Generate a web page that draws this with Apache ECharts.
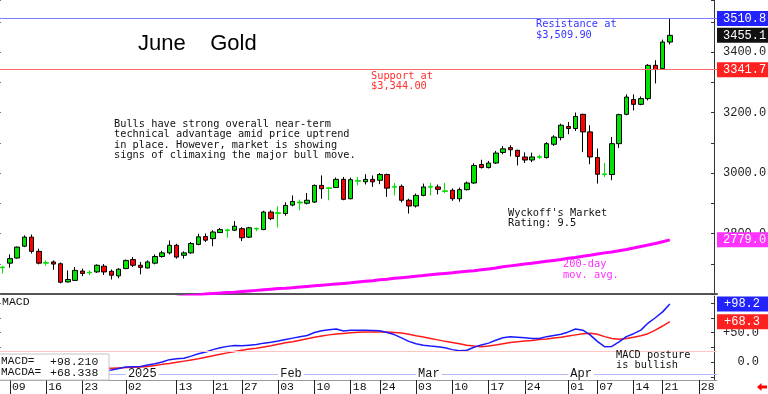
<!DOCTYPE html>
<html><head><meta charset="utf-8">
<script src="https://cdn.jsdelivr.net/npm/echarts@6/dist/echarts.min.js"></script>
<style>html,body{margin:0;padding:0;background:#fff}#c{width:768px;height:394px}</style>
</head><body><div id="c"></div><script>
// ---------------- DATA ----------------
const tradeDates = [
'2024-12-06','2024-12-09','2024-12-10','2024-12-11','2024-12-12','2024-12-13',
'2024-12-16','2024-12-17','2024-12-18','2024-12-19','2024-12-20',
'2024-12-23','2024-12-24','2024-12-26','2024-12-27','2024-12-30','2024-12-31',
'2025-01-02','2025-01-03','2025-01-06','2025-01-07','2025-01-08','2025-01-09','2025-01-10',
'2025-01-13','2025-01-14','2025-01-15','2025-01-16','2025-01-17',
'2025-01-21','2025-01-22','2025-01-23','2025-01-24',
'2025-01-27','2025-01-28','2025-01-29','2025-01-30','2025-01-31',
'2025-02-03','2025-02-04','2025-02-05','2025-02-06','2025-02-07',
'2025-02-10','2025-02-11','2025-02-12','2025-02-13','2025-02-14',
'2025-02-18','2025-02-19','2025-02-20','2025-02-21',
'2025-02-24','2025-02-25','2025-02-26','2025-02-27','2025-02-28',
'2025-03-03','2025-03-04','2025-03-05','2025-03-06','2025-03-07',
'2025-03-10','2025-03-11','2025-03-12','2025-03-13','2025-03-14',
'2025-03-17','2025-03-18','2025-03-19','2025-03-20','2025-03-21',
'2025-03-24','2025-03-25','2025-03-26','2025-03-27','2025-03-28',
'2025-03-31','2025-04-01','2025-04-02','2025-04-03','2025-04-04',
'2025-04-07','2025-04-08','2025-04-09','2025-04-10','2025-04-11',
'2025-04-14','2025-04-15','2025-04-16','2025-04-17',
'2025-04-21','2025-04-22'];
const futureDates = ['2025-04-23','2025-04-24','2025-04-25','2025-04-28','2025-04-29','2025-04-30'];

const opens = [
2689,2702,2719,2758,2788,2741,2702,2706,2700,2640,
2645,2676,2670,2673,2692,2675,2660,2684,2714,2695,
2686,2702,2724,2736,2761,2728,2736,2764,2790,2783,
2803,2812,2811,2816,2788,2817,2813,2871,2866,2866,
2894,2904,2900,2904,2959,2949,2952,2979,2915,2975,
2971,2979,2976,2995,2953,2956,2910,2891,2926,2953,
2954,2941,2943,2915,2945,2967,3028,3018,3033,3068,
3084,3075,3053,3043,3052,3051,3095,3117,3154,3147,
3194,3136,3051,2995,2995,3097,3194,3243,3227,3246,
3356,3345,3433];
const highs = [
2693,2731,2757,2794,2797,2750,2711,2711,2704,2678,
2689,2684,2678,2698,2699,2681,2685,2714,2722,2706,
2711,2731,2743,2777,2766,2741,2772,2799,2800,2811,
2818,2816,2841,2821,2822,2820,2875,2877,2890,2903,
2926,2912,2934,2962,2992,2954,2985,2987,2985,2987,
2996,2992,3000,2998,2967,2962,2915,2932,2965,2967,
2962,2967,2949,2952,2972,3032,3044,3040,3073,3089,
3092,3077,3068,3067,3060,3102,3125,3163,3169,3200,
3196,3158,3081,3033,3119,3196,3260,3260,3253,3360,
3373,3441,3510.8];
const lows = [
2668,2687,2717,2755,2734,2698,2693,2680,2635,2638,
2643,2659,2662,2670,2663,2648,2652,2682,2689,2665,
2685,2698,2720,2731,2717,2717,2733,2761,2772,2758,
2802,2786,2808,2775,2785,2808,2811,2844,2820,2859,
2890,2877,2896,2901,2915,2910,2950,2910,2913,2959,
2962,2954,2963,2921,2926,2903,2866,2886,2923,2926,
2929,2934,2908,2905,2942,2964,3015,3015,3030,3062,
3055,3025,3033,3036,3046,3048,3090,3108,3128,3139,
3069,3029,2965,2987,2976,3083,3191,3207,3224,3240,
3296,3342,3425];
const closes = [
2687,2717,2755,2788,2741,2702,2704,2699,2639,2648,
2678,2668,2672,2695,2673,2662,2682,2711,2695,2688,
2706,2724,2736,2761,2722,2736,2767,2789,2778,2805,
2813,2810,2824,2786,2819,2815,2871,2849,2869,2893,
2906,2901,2910,2959,2948,2951,2979,2913,2978,2973,
2979,2971,2995,2950,2955,2910,2891,2926,2954,2955,
2946,2939,2915,2945,2967,3025,3018,3033,3066,3080,
3077,3055,3043,3053,3054,3097,3119,3158,3147,3187,
3136,3053,2996,2997,3097,3193,3251,3227,3246,3356,
3342,3433,3455.1];

const ma200 = [
null,null,null,null,null,null,null,null,null,null,
null,null,null,null,null,null,null,null,null,null,
null,null,null,null,
2590,2593,2595,2597,2600,2602,2603,2605,2606,2608,
2610,2612,2614,2616,2618,2619,2621,2623,2625,2627,
2629,2631,2633,2635,2637,2640,2642,2644,2647,2649,
2652,2654,2656,2659,2661,2664,2666,2668,2670,2673,
2675,2677,2680,2683,2686,2690,2693,2696,2699,2702,
2705,2708,2711,2714,2718,2721,2725,2728,2732,2736,
2739,2743,2747,2752,2757,2762,2767,2773,2779];

const macd = [
2,3,4,6,5,2,-1,-3,-7,-10,-12,-13,-14,-14,-14,
-13.5,-11,-8.5,-8,-7.5,-5,-3,0,4,5.5,
6.5,10,14,17,21,24,26.5,28,27.5,28.5,
29.5,32,33.5,35.5,38,40.5,43,45,50,53,
54.5,56,52.5,54,54,54,53.5,53,50,46.5,
41,35,31,28.5,27,26,24,21,19,20,
25,29,32,37,41,43,42,41,40,40,
43,45,47,51,56,54,46,35,26,26.5,
34,43,48,54,66,75,85,98.21];
const macdSignal = [
0,0.5,1,1.5,2,1.5,1,0,-1.5,-3.5,-5.5,-7,-8.5,-9.5,-10,
-10.5,-10,-9.5,-9,-8.5,-7.5,-6,-4,-2.5,-0.5,
1.5,3.5,5.5,8,10.5,13,15.5,18,20,22,
23.5,25.5,27.5,30,32.5,34.5,37,39.5,42,44,
46,47.5,48.5,49.5,50.5,51,51,51,51,50,
49,47,44.5,42.5,40,37.5,35,33,31,28.5,
27,26,27,29,31,33,34.5,35.5,36.5,38,
39,40.5,42,44,46,48,48.6,47,43,40,
38.5,40,42,44.6,48,54,61,68.338];

const dayTickDates = ['2024-12-09','2024-12-16','2024-12-23','2025-01-02','2025-01-13','2025-01-21',
'2025-01-27','2025-02-03','2025-02-10','2025-02-18','2025-02-24','2025-03-03','2025-03-10',
'2025-03-17','2025-03-24','2025-04-01','2025-04-07','2025-04-14','2025-04-21','2025-04-28'];
const monthTickDates = ['2025-01-02','2025-02-03','2025-03-03','2025-04-01'];
const monthTickLabels = ['2025','Feb','Mar','Apr'];
const resistanceLevel = 3510.8;
const supportLevel = 3341.7;
const macdRefLevel = 19;

// ---------------- BUILD ----------------
const MONO = 'Liberation Mono';
const NOTE = 'DejaVu Sans Mono';
const UP = '#00e400', DOWN = '#ff0000';
const cats = tradeDates.concat(futureDates);
const daySet = new Set(dayTickDates);
const monthMap = {};
monthTickDates.forEach((d, i) => monthMap[d] = monthTickLabels[i]);

const candleData = opens.map((o, i) => {
  const c = closes[i];
  const item = { value: [o, c, lows[i], highs[i]] };
  if (Math.abs(c - o) <= 3) item.itemStyle = { borderColor: UP, borderColor0: DOWN };
  return item;
});
const last = closes.length - 1;
const sgn = v => (v > 0 ? '+' : '') + v.toFixed(1);

function tag(value, text, bg, lineColor, padLeft) {
  return {
    yAxis: value,
    lineStyle: { color: lineColor || 'rgba(0,0,0,0)', width: 1, type: 'solid' },
    label: { show: true, position: 'end', distance: 0, formatter: text, backgroundColor: bg,
      color: '#fff', fontFamily: MONO, fontSize: 12, padding: [2, 0, 1, padLeft || 5],
      width: 51 - (padLeft || 5), align: 'left' }
  };
}
function note(x, yc, lines, color, size, lh, family) {
  return { type: 'text', x: x, y: yc - lh / 2, z: 100,
    style: { text: lines.join('\n'), fill: color, font: size + 'px "' + (family || NOTE) + '"', lineHeight: lh } };
}

const chart = echarts.init(document.getElementById('c'), null, { renderer: 'canvas' });
chart.setOption({
  animation: false,
  backgroundColor: '#fff',
  grid: [
    { left: -1, top: 0, width: 718, height: 294, containLabel: false, outerBoundsMode: 'none' },
    { left: -1, top: 296, width: 718, height: 84, containLabel: false, outerBoundsMode: 'none' }
  ],
  xAxis: [
    { type: 'category', gridIndex: 0, data: cats, boundaryGap: true,
      axisLine: { onZero: false, lineStyle: { color: '#555', width: 2 } }, axisTick: { show: false }, axisLabel: { show: false } },
    { type: 'category', gridIndex: 1, data: cats, boundaryGap: true, position: 'bottom',
      axisLine: { onZero: false, lineStyle: { color: '#9a9a9a', width: 1 } },
      axisTick: { show: true, alignWithLabel: true, length: 14, interval: (i, v) => daySet.has(v), lineStyle: { color: '#222', width: 1 } },
      axisLabel: { interval: (i, v) => daySet.has(v), formatter: v => v.slice(8), align: 'left', verticalAlign: 'middle',
        margin: 7, padding: [0, 0, 0, 2], fontFamily: MONO, fontSize: 11.5, color: '#111' } },
    { type: 'category', gridIndex: 1, data: cats, boundaryGap: true, position: 'bottom', offset: -6,
      axisLine: { onZero: false, lineStyle: { color: '#b8b8ff', width: 1 } }, axisTick: { show: false },
      axisLabel: { interval: (i, v) => monthMap[v] !== undefined, formatter: v => monthMap[v] || '', align: 'left',
        verticalAlign: 'middle', margin: 0, padding: [0, 2, 0, 2], backgroundColor: '#fff',
        fontFamily: MONO, fontSize: 12, color: '#111' } }
  ],
  yAxis: [
    { type: 'value', gridIndex: 0, position: 'right', offset: -3, min: 2600, max: 3572, interval: 100,
      axisLine: { show: true, onZero: false, lineStyle: { color: '#333' } },
      axisTick: { show: true, inside: true, length: 3, lineStyle: { color: '#333' } },
      splitLine: { show: false },
      axisLabel: { formatter: v => (v % 200 === 0 && v > 2600) ? v.toFixed(1) : '', margin: 9,
        fontFamily: MONO, fontSize: 12, color: '#222' } },
    { type: 'value', gridIndex: 0, position: 'left', min: 2600, max: 3572, interval: 100,
      axisLine: { show: false, onZero: false }, axisTick: { show: true, inside: true, length: 2, lineStyle: { color: '#777' } },
      axisLabel: { show: false }, splitLine: { show: false } },
    { type: 'value', gridIndex: 1, position: 'right', offset: -3, min: -30.5, max: 111.9,
      axisLine: { show: true, onZero: false, lineStyle: { color: '#333' } },
      axisTick: { show: true, inside: true, length: 3, customValues: [-25, 0, 25, 50, 75, 100], lineStyle: { color: '#333' } },
      splitLine: { show: false },
      axisLabel: { customValues: [0, 50], formatter: v => sgn(v).replace('+0.0', '0.0'), align: 'right', margin: 45,
        fontFamily: MONO, fontSize: 12, color: '#222' } },
    { type: 'value', gridIndex: 1, position: 'left', min: -30.5, max: 111.9,
      axisLine: { show: false, onZero: false },
      axisTick: { show: true, inside: true, length: 2, customValues: [0, 25, 50, 75, 100], lineStyle: { color: '#777' } },
      axisLabel: { show: false }, splitLine: { show: false } }
  ],
  series: [
    { type: 'candlestick', xAxisIndex: 0, yAxisIndex: 0, data: candleData, barWidth: 5,
      itemStyle: { color: UP, color0: DOWN, borderColor: '#000', borderColor0: '#000', borderWidth: 1 },
      markLine: { symbol: ['none', 'none'], silent: true, animation: false,
        data: [
          tag(resistanceLevel, resistanceLevel.toFixed(1), '#2222ff', '#7c7cff', 6),
          tag(closes[last], closes[last].toFixed(1), '#111111', null, 6),
          tag(supportLevel, supportLevel.toFixed(1), '#ff2020', '#ff6a6a', 6)
        ] } },
    { type: 'line', xAxisIndex: 0, yAxisIndex: 0, data: ma200, showSymbol: false, connectNulls: false,
      lineStyle: { color: '#ff00ff', width: 3 }, itemStyle: { color: '#ff00ff' },
      markLine: { symbol: ['none', 'none'], silent: true, animation: false,
        data: [ tag(ma200[last], ma200[last].toFixed(1), '#ff33ff', null, 6) ] } },
    { type: 'line', xAxisIndex: 1, yAxisIndex: 2, data: macdSignal, showSymbol: false,
      lineStyle: { color: '#ff1a1a', width: 1.5 }, itemStyle: { color: '#ff1a1a' },
      markLine: { symbol: ['none', 'none'], silent: true, animation: false,
        data: [
          { yAxis: macdRefLevel, lineStyle: { color: '#ffc4c4', width: 1, type: 'solid' }, label: { show: false } },
          tag(macdSignal[last], sgn(macdSignal[last]), '#ff2020', null, 7)
        ] } },
    { type: 'line', xAxisIndex: 1, yAxisIndex: 2, data: macd, showSymbol: false,
      lineStyle: { color: '#1a1aff', width: 1.5 }, itemStyle: { color: '#1a1aff' },
      markLine: { symbol: ['none', 'none'], silent: true, animation: false,
        data: [ tag(macd[last], sgn(macd[last]), '#2222ff', null, 7) ] } }
  ],
  graphic: [
    { type: 'text', x: 138, y: 33, z: 100, style: { text: 'June    Gold', fill: '#000', font: '22px "Liberation Sans"' } },
    note(536, 24.5, ['Resistance at', '$3,509.90'], '#3535ff', 10.3, 10.5),
    note(371, 76, ['Support at', '$3,344.00'], '#ff3030', 10.3, 10.5),
    note(114, 124.3, ['Bulls have strong overall near-term', 'technical advantage amid price uptrend',
      'in place. However, market is showing', 'signs of climaxing the major bull move.'], '#111', 10.3, 10.45),
    note(508, 213, ["Wyckoff's Market", 'Rating: 9.5'], '#111', 10.3, 10.5),
    note(563, 264.5, ['200-day', 'mov. avg.'], '#ff30ff', 10.3, 11),
    note(2, 301.5, ['MACD'], '#111', 11.5, 12, MONO),
    note(616, 355.5, ['MACD posture', 'is bullish'], '#111', 10.3, 10.2),
    { type: 'rect', z: 100, shape: { x: -1, y: 354, width: 110, height: 26 },
      style: { fill: '#fff', stroke: '#c4c4c4', lineWidth: 1 } },
    note(1, 361.5, ['MACD=', 'MACDA='], '#111', 11.2, 11, MONO),
    note(50, 361.5, ['+' + macd[last].toFixed(3), '+' + macdSignal[last].toFixed(3)], '#111', 11.5, 11, MONO),
    { type: 'polygon', z: 100, shape: { points: [[757, 387], [761.5, 383], [761.5, 385.5], [767, 385.5], [767, 388.5], [761.5, 388.5], [761.5, 391]] },
      style: { fill: '#ff0000' } }
  ]
});
</script></body></html>
